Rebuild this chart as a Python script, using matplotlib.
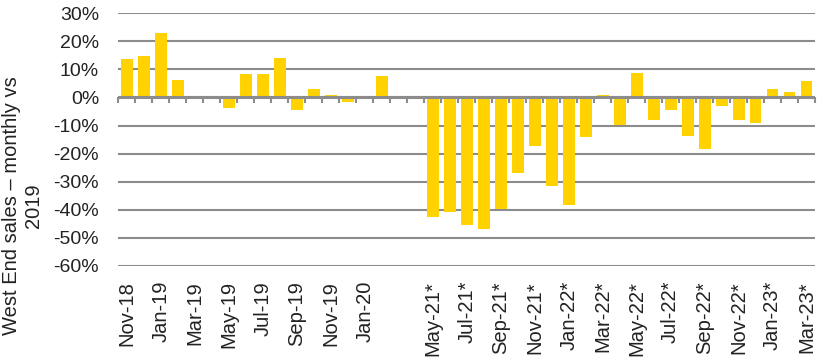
import matplotlib.pyplot as plt
import numpy as np
from matplotlib.ticker import PercentFormatter, FixedLocator, NullFormatter

plt.rcParams['font.family'] = ['Liberation Sans', 'DejaVu Sans']
plt.rcParams['axes.unicode_minus'] = False

# monthly West End sales vs same month in 2019, %
months = ['Nov-18', 'Dec-18', 'Jan-19', 'Feb-19', 'Mar-19', 'Apr-19', 'May-19', 'Jun-19',
          'Jul-19', 'Aug-19', 'Sep-19', 'Oct-19', 'Nov-19', 'Dec-19', 'Jan-20', 'Feb-20',
          '', '',
          'May-21*', 'Jun-21*', 'Jul-21*', 'Aug-21*', 'Sep-21*', 'Oct-21*', 'Nov-21*', 'Dec-21*',
          'Jan-22*', 'Feb-22*', 'Mar-22*', 'Apr-22*', 'May-22*', 'Jun-22*', 'Jul-22*', 'Aug-22*',
          'Sep-22*', 'Oct-22*', 'Nov-22*', 'Dec-22*', 'Jan-23*', 'Feb-23*', 'Mar-23*']
sales_vs_2019 = [13.6, 14.7, 22.9, 6.2, np.nan, np.nan, -3.8, 8.3,
                 8.3, 14.0, -4.3, 3.0, 0.8, -1.5, np.nan, 7.6,
                 np.nan, np.nan,
                 -42.5, -40.7, -45.4, -46.8, -39.7, -26.8, -17.2, -31.5,
                 -38.2, -14.0, 0.8, -9.7, 8.7, -7.9, -4.4, -13.7,
                 -18.3, -3.0, -7.9, -9.0, 3.0, 1.9, 5.8]

y_ticks = np.arange(-60, 31, 10)
grey = '#8c8c8c'
yellow = '#ffd200'

fig = plt.figure(figsize=(8.21, 3.61), dpi=100)
ax = fig.add_axes([0.1443, 0.264, 0.8484, 0.699])

x = np.arange(len(months))
ax.bar(x, sales_vs_2019, width=0.7, color=yellow, zorder=2)

ax.set_xlim(-0.5, len(months) - 0.5)
ax.set_ylim(-60, 30)
ax.set_yticks(y_ticks)
ax.yaxis.set_major_formatter(PercentFormatter(decimals=0))
ax.grid(axis='y', color=grey, linewidth=1.5, zorder=0)
ax.axhline(0, color=grey, linewidth=2.2, zorder=3)

for s in ax.spines.values():
    s.set_visible(False)
ax.tick_params(axis='y', length=0, pad=14, labelsize=14, labelcolor='#222222')

# every second month labelled along the bottom
ax.set_xticks(x[::2])
ax.set_xticklabels(months[::2], rotation=90, fontsize=14.5, color='#222222')
ax.tick_params(axis='x', length=0, pad=11)

# category tick marks on the zero line
zero_pos = (0 - (-60)) / (30 - (-60))
sec = ax.secondary_xaxis(zero_pos)
sec.spines['top'].set_visible(False)
sec.spines['bottom'].set_visible(False)
sec.xaxis.set_ticks_position('bottom')
sec.xaxis.set_major_locator(FixedLocator(np.arange(len(months) + 1) - 0.5))
sec.xaxis.set_major_formatter(NullFormatter())
sec.tick_params(axis='x', direction='out', length=4, width=1.5, color=grey)

fig.text(0.027, 0.43, 'West End sales \u2013 monthly vs\n2019', rotation=90,
         ha='center', va='center', multialignment='center', fontsize=14.5,
         color='#222222', linespacing=1.2)

fig.savefig('out.png', dpi=100)
